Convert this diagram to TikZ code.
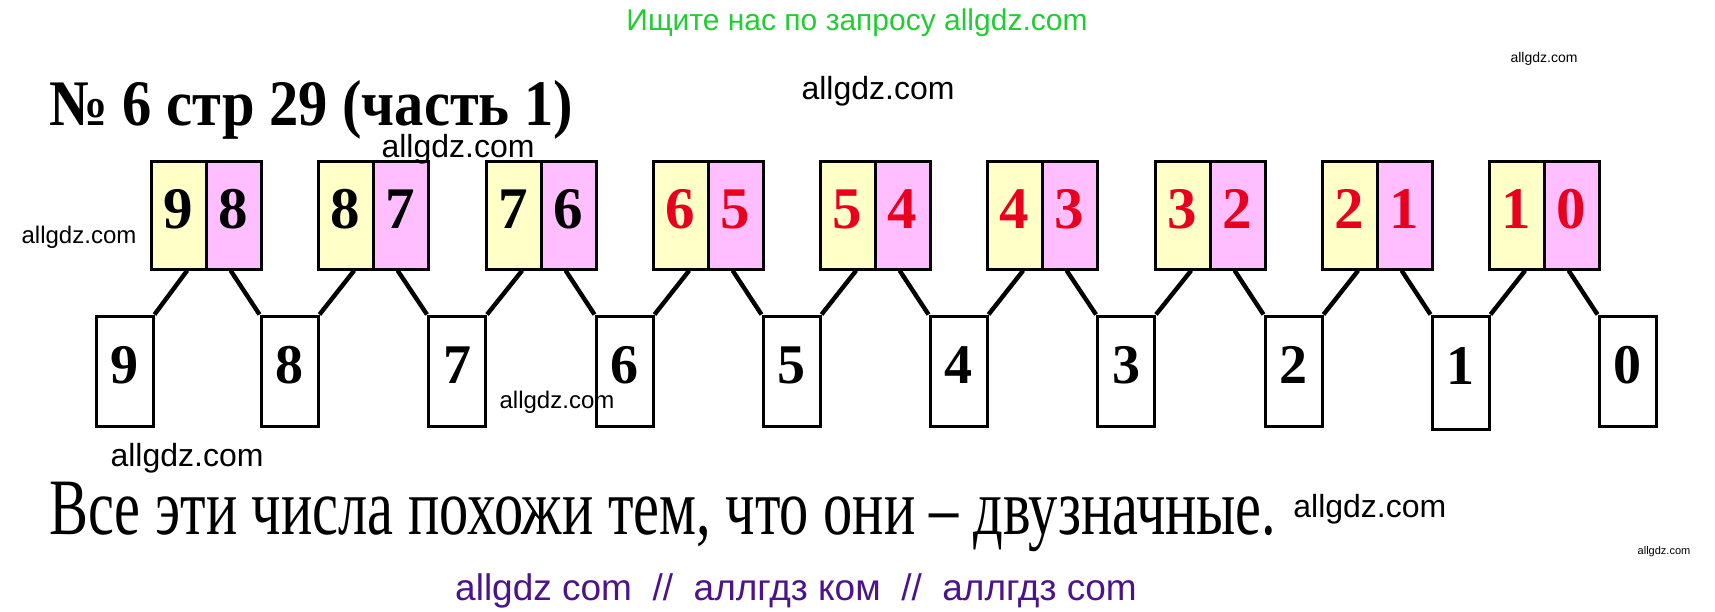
\documentclass[tikz,border=0pt]{standalone}
\usepackage{fontspec}
\setmainfont{Liberation Serif}
\setsansfont{Liberation Sans}
\usepackage{tikz}
\usetikzlibrary{calc}
\usepackage{xcolor}
\definecolor{yel}{RGB}{255,255,200}
\definecolor{pnk}{RGB}{255,190,255}
\definecolor{dred}{RGB}{232,0,30}
\definecolor{grn}{RGB}{34,204,51}
\definecolor{prp}{RGB}{75,20,140}

\begin{document}
\begin{tikzpicture}[x=1pt,y=1pt]
    \newlength{\px}
    \setlength{\px}{0.5pt}
    \tikzset{
        half/.style={draw,line width=1.5pt,minimum width=55\px,minimum height=108\px,
            inner sep=0pt,text height=40\px,text depth=14\px,
            font=\bfseries\fontsize{29.5}{30}\selectfont},
        yhalf/.style={half,fill=yel},
        phalf/.style={half,fill=pnk},
        low/.style={draw,line width=1.5pt,fill=white,minimum width=57\px,minimum height=110\px,
            inner sep=0pt,text height=38\px,text depth=14\px,
            font=\bfseries\fontsize{28}{30}\selectfont},
        link/.style={line width=2.2pt},
        wm/.style={inner sep=0pt,font=\sffamily\fontsize{#1}{#1}\selectfont},
    }
    \useasboundingbox (0,0) rectangle (1715\px,-611\px);
    % Top pairs
    \node[yhalf] (y1) at ( 178.5\px,-215\px) {9};
    \node[phalf] (p1) at ( 233.5\px,-215\px) {8};
    \node[yhalf] (y2) at ( 345.5\px,-215\px) {8};
    \node[phalf] (p2) at ( 400.5\px,-215\px) {7};
    \node[yhalf] (y3) at ( 513.5\px,-215\px) {7};
    \node[phalf] (p3) at ( 568.5\px,-215\px) {6};
    \node[yhalf,text=dred] (y4) at ( 680.5\px,-215\px) {6};
    \node[phalf,text=dred] (p4) at ( 735.5\px,-215\px) {5};
    \node[yhalf,text=dred] (y5) at ( 847.5\px,-215\px) {5};
    \node[phalf,text=dred] (p5) at ( 902.5\px,-215\px) {4};
    \node[yhalf,text=dred] (y6) at (1014.5\px,-215\px) {4};
    \node[phalf,text=dred] (p6) at (1069.5\px,-215\px) {3};
    \node[yhalf,text=dred] (y7) at (1182.5\px,-215\px) {3};
    \node[phalf,text=dred] (p7) at (1237.5\px,-215\px) {2};
    \node[yhalf,text=dred] (y8) at (1349.5\px,-215\px) {2};
    \node[phalf,text=dred] (p8) at (1404.5\px,-215\px) {1};
    \node[yhalf,text=dred] (y9) at (1516.5\px,-215\px) {1};
    \node[phalf,text=dred] (p9) at (1571.5\px,-215\px) {0};
    % Single digits
    \node[low] (b9) at ( 124.5\px,-371\px) {9};
    \node[low] (b8) at ( 289.5\px,-371\px) {8};
    \node[low] (b7) at ( 457.0\px,-371\px) {7};
    \node[low] (b6) at ( 624.5\px,-371\px) {6};
    \node[low] (b5) at ( 791.5\px,-371\px) {5};
    \node[low] (b4) at ( 958.5\px,-371\px) {4};
    \node[low] (b3) at (1126.0\px,-371\px) {3};
    \node[low] (b2) at (1293.5\px,-371\px) {2};
    \node[low,minimum height=113\px] (b1) at (1460.5\px,-372.5\px) {1};
    \node[low] (b0) at (1627.5\px,-371\px) {0};
    % Links
    \draw[link] ($(y1.south west)!0.65!(y1.south east)$) -- (b9.north east);
    \draw[link] ($(p1.south west)!0.45!(p1.south east)$) -- (b8.north west);
    \draw[link] ($(y2.south west)!0.65!(y2.south east)$) -- (b8.north east);
    \draw[link] ($(p2.south west)!0.45!(p2.south east)$) -- (b7.north west);
    \draw[link] ($(y3.south west)!0.65!(y3.south east)$) -- (b7.north east);
    \draw[link] ($(p3.south west)!0.45!(p3.south east)$) -- (b6.north west);
    \draw[link] ($(y4.south west)!0.65!(y4.south east)$) -- (b6.north east);
    \draw[link] ($(p4.south west)!0.45!(p4.south east)$) -- (b5.north west);
    \draw[link] ($(y5.south west)!0.65!(y5.south east)$) -- (b5.north east);
    \draw[link] ($(p5.south west)!0.45!(p5.south east)$) -- (b4.north west);
    \draw[link] ($(y6.south west)!0.65!(y6.south east)$) -- (b4.north east);
    \draw[link] ($(p6.south west)!0.45!(p6.south east)$) -- (b3.north west);
    \draw[link] ($(y7.south west)!0.65!(y7.south east)$) -- (b3.north east);
    \draw[link] ($(p7.south west)!0.45!(p7.south east)$) -- (b2.north west);
    \draw[link] ($(y8.south west)!0.65!(y8.south east)$) -- (b2.north east);
    \draw[link] ($(p8.south west)!0.45!(p8.south east)$) -- (b1.north west);
    \draw[link] ($(y9.south west)!0.65!(y9.south east)$) -- (b1.north east);
    \draw[link] ($(p9.south west)!0.45!(p9.south east)$) -- (b0.north west);
    % Title and answer
    \node[anchor=base west,inner sep=0pt,text depth=0pt,font=\bfseries\fontsize{32.5}{34}\selectfont] (title) at (49\px,-125\px) {\scalebox{0.9}[1]{№ 6 стр 29 (часть 1)}};
    \node[anchor=base west,inner sep=0pt,font=\fontsize{40}{42}\selectfont] (answer) at (49\px,-534\px) {\scalebox{0.73}[1]{Все эти числа похожи тем, что они – двузначные.}};
    % Watermarks
    \node[wm=15,anchor=base,text=grn] (ad) at (857\px,-30\px) {Ищите нас по запросу allgdz.com};
    \node[wm=16,anchor=base] (wm1) at (878\px,-99\px) {allgdz.com};
    \node[wm=7,anchor=base] (wm2) at (1544\px,-62\px) {allgdz.com};
    \node[wm=16,anchor=base] (wm3) at (458\px,-157\px) {allgdz.com};
    \node[wm=12,anchor=base] (wm4) at (79\px,-243\px) {allgdz.com};
    \node[wm=12,anchor=base] (wm5) at (557\px,-408\px) {allgdz.com};
    \node[wm=16,anchor=base] (wm6) at (187\px,-466\px) {allgdz.com};
    \node[wm=16,anchor=base west] (wm7) at (1293\px,-517\px) {allgdz.com};
    \node[wm=5.5,anchor=base] (wm8) at (1664\px,-554\px) {allgdz.com};
    \node[wm=18.5,anchor=base,text=prp] (wm9) at (796\px,-600\px) {allgdz com\ \ //\ \ аллгдз ком\ \ //\ \ аллгдз com};
\end{tikzpicture}
\end{document}
